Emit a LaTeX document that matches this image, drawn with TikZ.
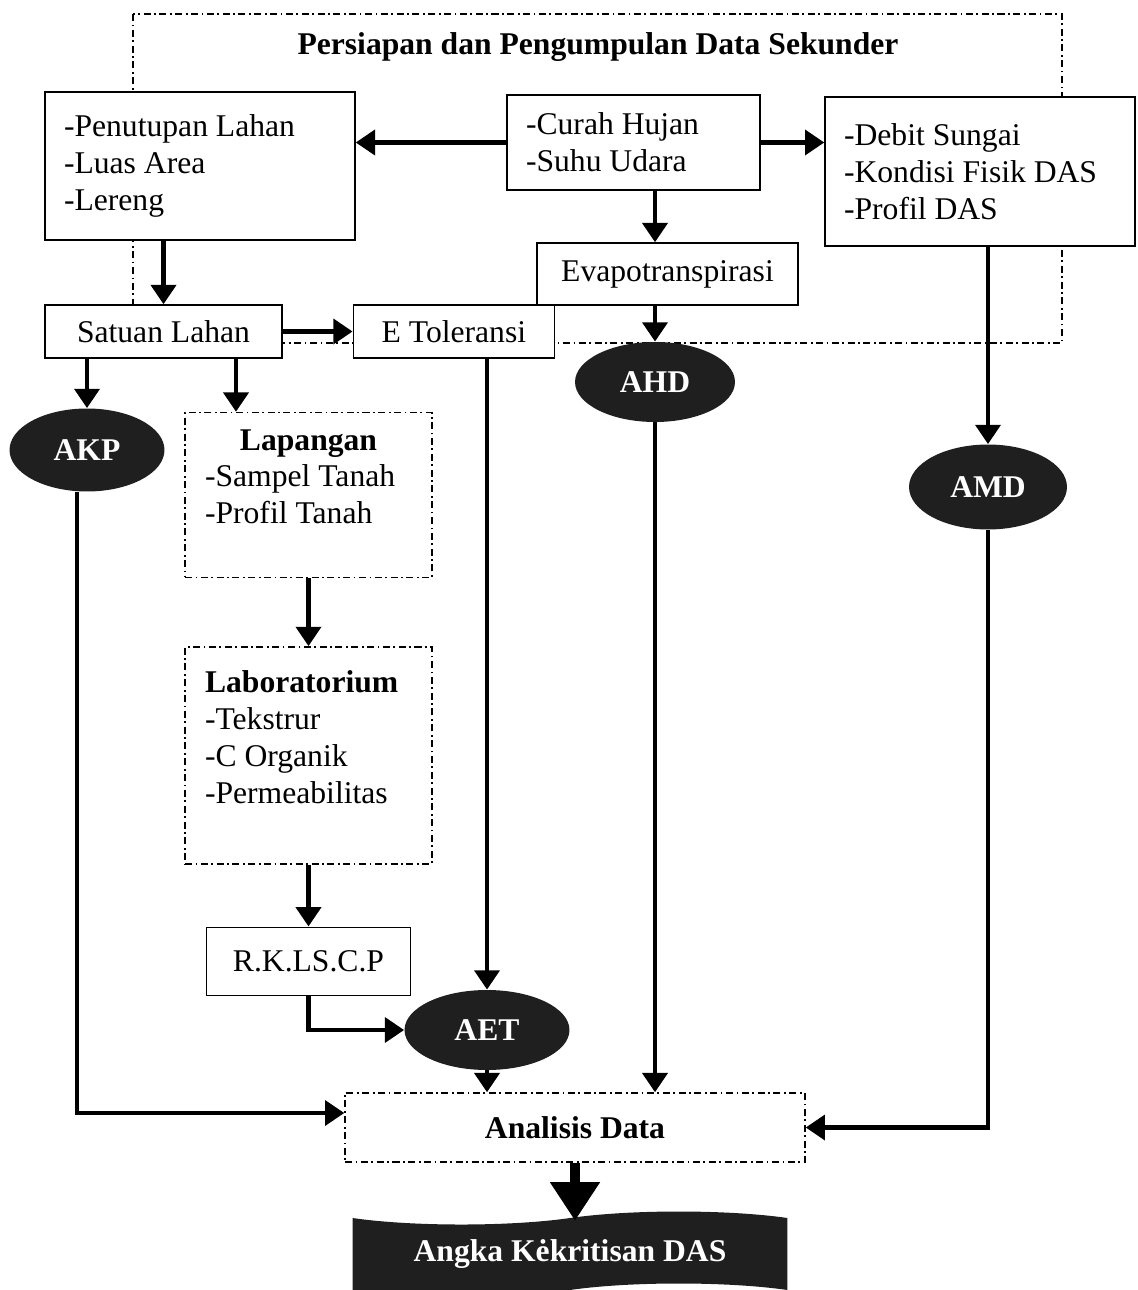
\documentclass[tikz,border=0pt]{standalone}
\usepackage{fontspec}
\setmainfont{Liberation Serif}
\usetikzlibrary{positioning, shapes.geometric, shapes.symbols}
\usetikzlibrary{arrows.meta}

\begin{document}
\begin{tikzpicture}[
		x=0.02cm, y=-0.02cm,
		font=\fontsize{18}{21}\selectfont,
		box/.style={
			draw,
			line width=0.8pt,
			fill=white,
			inner sep=0pt
		},
		listbox/.style={
			box,
			align=flush left,
			inner xsep=0.38cm
		},
		dashbox/.style={
			draw,
			line width=0.8pt,
			dash pattern=on 4pt off 2pt on 1pt off 2pt,
			fill=white,
			inner sep=0pt
		},
		blob/.style={
			ellipse,
			fill=black!88,
			text=white,
			inner sep=0pt,
			font=\fontsize{18}{21}\selectfont\bfseries
		},
		flow/.style={
			line width=2.8pt,
			-{Triangle[length=11pt,width=14pt]}
		},
		bigflow/.style={
			line width=6pt,
			-{Triangle[length=22pt,width=27pt]}
		}
		]
		
		\useasboundingbox (0,0) rectangle (1138,1290);
		
		% --- Data sekunder (frame) ---
		\draw[line width=0.8pt, dash pattern=on 4pt off 2pt on 1pt off 2pt]
			(133,14) rectangle (1062,343);
		\node[font=\fontsize{18}{21}\selectfont\bfseries] (title) at (598,47)
			{Persiapan dan Pengumpulan Data Sekunder};
		
		% --- Top row ---
		\node[listbox, text width=5.44cm, minimum height=2.96cm] (land) at (200,166) {
			-Penutupan Lahan\\
			-Luas Area\\
			-Lereng
		};
		\node[listbox, text width=4.3cm, minimum height=1.9cm] (rain) at (633.5,142.5) {
			-Curah Hujan\\
			-Suhu Udara
		};
		\node[listbox, text width=5.44cm, minimum height=2.98cm] (debit) at (980,171.5) {
			-Debit Sungai\\
			-Kondisi Fisik DAS\\
			-Profil DAS
		};
		\node[box, minimum width=5.22cm, minimum height=1.24cm] (evapo) at (667.5,274)
			{Evapotranspirasi};
		
		% --- Satuan lahan ---
		\node[box, minimum width=4.74cm, minimum height=1.06cm] (satuan) at (163.5,331.5)
			{Satuan Lahan};
		\node[box, minimum width=4.02cm, minimum height=1.06cm, right=1.4cm of satuan] (etol)
			{E Toleransi};
		
		% --- Indices ---
		\node[blob, minimum width=3.1cm, minimum height=1.66cm] (akp) at (87,450) {AKP};
		\node[blob, minimum width=3.2cm, minimum height=1.6cm] (ahd) at (655,382) {AHD};
		\node[blob, minimum width=3.16cm, minimum height=1.7cm] (amd) at (988,487) {AMD};
		
		% --- Field and lab ---
		\node[dashbox, align=flush left, inner xsep=0.4cm, text width=4.14cm, minimum height=3.3cm] (field) at (308.5,495) {
			\hfill\textbf{Lapangan}\hfill\null\\
			-Sampel Tanah\\
			-Profil Tanah\\
			~
		};
		\node[dashbox, align=flush left, inner xsep=0.4cm, text width=4.14cm, minimum height=4.34cm, below=1.36cm of field] (lab) {
			\textbf{Laboratorium}\\
			-Tekstrur\\
			-C Organik\\
			-Permeabilitas\\
			~
		};
		\node[box, minimum width=4.08cm, minimum height=1.36cm, below=1.24cm of lab] (rk)
			{R.K.LS.C.P};
		\node[blob, minimum width=3.3cm, minimum height=1.6cm] (aet) at (487,1030) {AET};
		
		% --- Analysis ---
		\node[dashbox, minimum width=9.2cm, minimum height=1.38cm, font=\fontsize{18}{21}\selectfont\bfseries] (analisis) at (575,1127.5)
			{Analisis Data};
		\node[tape, draw=none, fill=black!88, text=white, inner sep=0pt, tape bend height=0.26cm,
			minimum width=8.7cm, minimum height=1.7cm, font=\fontsize{18}{21}\selectfont\bfseries] (angka) at (570,1254)
			{Angka Kėkritisan DAS};
		
		% --- Arrows ---
		\draw[flow] (rain.west) -- (rain.west -| land.east);
		\draw[flow] (rain.east) -- (rain.east -| debit.west);
		\draw[flow] (rain.south -| ahd) -- (evapo.north -| ahd);
		\draw[flow] (evapo.south -| ahd) -- (ahd.north);
		\draw[flow] (land.south -| satuan) -- (satuan.north);
		\draw[flow] (satuan.east) -- (etol.west);
		\draw[flow] (satuan.south -| akp) -- (akp.north);
		\draw[flow] ([xshift=1.45cm]satuan.south) -- ([xshift=1.45cm]satuan.south |- field.north);
		\draw[flow] (etol.south -| aet) -- (aet.north);
		\draw[flow] (debit.south -| amd) -- (amd.north);
		\draw[flow] (field.south) -- (field.south |- lab.north);
		\draw[flow] (lab.south) -- (lab.south |- rk.north);
		\draw[flow] (rk.south) |- (aet.west);
		\draw[flow] (ahd.south) -- (ahd.south |- analisis.north);
		\draw[flow] (aet.south) -- (aet.south |- analisis.north);
		\draw[flow] ([xshift=-0.2cm]akp.south) |- ([yshift=0.29cm]analisis.west);
		\draw[flow] (amd.south) |- (analisis.east);
		\draw[bigflow] (analisis.south) -- ([yshift=-0.06cm]analisis.south |- angka.north);
		
	\end{tikzpicture}
\end{document}
